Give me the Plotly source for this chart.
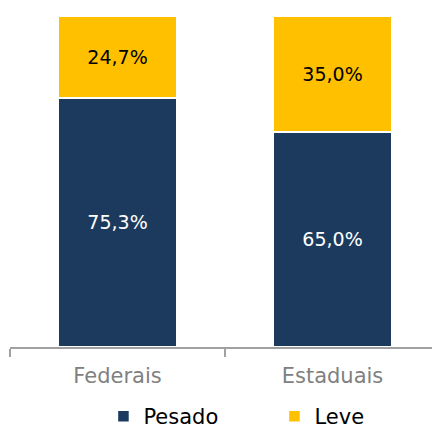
import plotly.graph_objects as go

categories = ["Federais", "Estaduais"]
pesado = [75.3, 65.0]
leve = [24.7, 35.0]
pesado_labels = ["75,3%", "65,0%"]
leve_labels = ["24,7%", "35,0%"]

FONT = "DejaVu Sans"
fig = go.Figure()
fig.add_trace(go.Bar(
    x=categories, y=pesado, name="Pesado", text=pesado_labels,
    textposition="inside", insidetextanchor="middle",
    textfont=dict(color="white", size=19, family=FONT),
    marker=dict(color="#1b3a5e", line=dict(color="white", width=1.5)),
))
fig.add_trace(go.Bar(
    x=categories, y=leve, name="Leve", text=leve_labels,
    textposition="inside", insidetextanchor="middle",
    textfont=dict(color="black", size=19, family=FONT),
    marker=dict(color="#ffc000", line=dict(color="white", width=1.5)),
))
fig.update_layout(
    barmode="stack", bargap=0.445,
    width=432, height=420,
    margin=dict(l=2, r=0, t=8, b=81, autoexpand=False),
    paper_bgcolor="white", plot_bgcolor="white",
    font=dict(family=FONT),
    uniformtext=dict(mode=False),
    showlegend=True,
    legend=dict(orientation="h", x=0.615, xanchor="center",
                y=-0.21, yanchor="middle",
                font=dict(size=21, color="black"), traceorder="normal",
                itemwidth=30, entrywidth=126),
)
fig.update_xaxes(
    showline=True, linecolor="#a0a0a0", linewidth=2,
    ticks="outside", tickson="boundaries", ticklen=8, tickcolor="#a0a0a0", tickwidth=2,
    ticklabelstandoff=9,
    tickfont=dict(size=21, color="#808080", family=FONT), automargin=False,
)
fig.update_yaxes(range=[0, 100], visible=False, showgrid=False, automargin=False)
fig.write_html("out.html")
